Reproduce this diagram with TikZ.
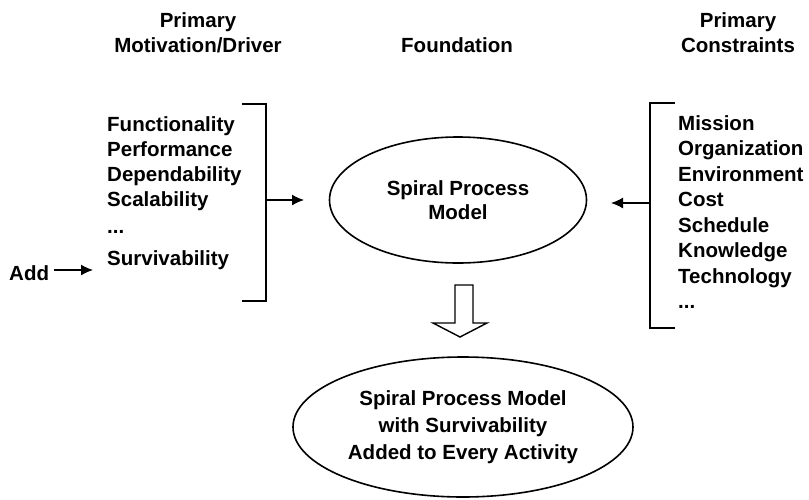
\documentclass[tikz,border=0pt]{standalone}
\usepackage{fontspec}
\setmainfont{Liberation Sans}
\usetikzlibrary{shapes.geometric,arrows.meta}
\begin{document}
\begin{tikzpicture}[x=1pt,y=-1pt,
  txt/.style={font=\fontsize{20.5}{24.5}\selectfont\bfseries, inner sep=0pt},
  item/.style={txt, anchor=base west},
  hdr/.style={txt, align=center, anchor=base},
  oval/.style={draw, line width=1.6pt, ellipse, inner sep=0pt, align=center, txt},
  brk/.style={line width=1.6pt},
  arr/.style={line width=1.3pt, -{Latex[length=12pt,width=11pt]}}
]
\useasboundingbox[fill=white] (0,0) rectangle (809,499);

% headers
\node[hdr] (h1) at (198,52) {Primary\\Motivation/Driver};
\node[hdr] (h2) at (457,52) {Foundation};
\node[hdr] (h3) at (738,52) {Primary\\Constraints};

% left list
\node[item] (l1) at (107,131) {Functionality};
\node[item] (l2) at (107,156) {Performance};
\node[item] (l3) at (107,181) {Dependability};
\node[item] (l4) at (107,206) {Scalability};
\node[item] (l5) at (107,233) {...};
\node[item] (l6) at (107,265) {Survivability};
\node[item] (add) at (9,280) {Add};
\coordinate (addend) at (93,270);
\draw[arr] (add.east |- addend) ++(5,0) coordinate (addst) (addst) -- (addend);

% left bracket
\coordinate (lbt) at (266,104);
\coordinate (lbb) at (266,301);
\coordinate (lbm) at (266,200);
\coordinate (lae) at (304,200);
\draw[brk] (242,104) -- (lbt) -- (lbb) -- (242,301);
\draw[arr] (lbm) -- (lae);

% right list
\node[item] (r1) at (678,130) {Mission};
\node[item] (r2) at (678,155.5) {Organization};
\node[item] (r3) at (678,181) {Environment};
\node[item] (r4) at (678,206.5) {Cost};
\node[item] (r5) at (678,232) {Schedule};
\node[item] (r6) at (678,257.5) {Knowledge};
\node[item] (r7) at (678,283) {Technology};
\node[item] (r8) at (678,308) {...};

% right bracket
\coordinate (rbt) at (650,103);
\coordinate (rbb) at (650,328);
\coordinate (rbm) at (650,203);
\coordinate (rae) at (611,203);
\draw[brk] (675,103) -- (rbt) -- (rbb) -- (675,328);
\draw[arr] (rbm) -- (rae);

% ellipses
\node[oval, minimum width=257pt, minimum height=126pt] (e1) at (458,200)
  {Spiral Process\\Model};
\node[oval, minimum width=340pt, minimum height=140pt, font=\fontsize{20.5}{27}\selectfont\bfseries] (e2) at (463,427)
  {Spiral Process Model\\with Survivability\\Added to Every Activity};

% block arrow
\draw[line width=1.4pt, line join=miter, fill=white]
  (455,285) -- (473,285) -- (473,323) -- (487,323) -- (460,337) -- (433,323) -- (455,323) -- cycle;
\end{tikzpicture}
\end{document}
